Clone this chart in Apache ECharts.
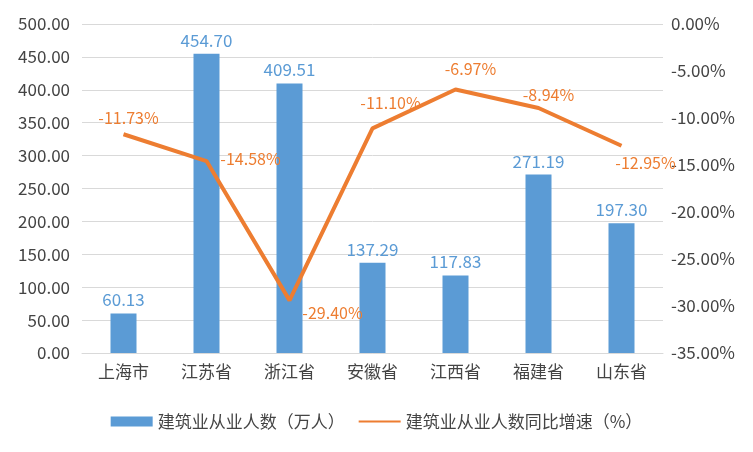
<!DOCTYPE html>
<html><head><meta charset="utf-8">
<script src="https://cdn.jsdelivr.net/npm/echarts@6/dist/echarts.min.js"></script>
<style>html,body{margin:0;padding:0;background:#fff}#c{width:753px;height:452px}</style>
</head><body><div id="c"></div>
<script>
var categories = ['上海市', '江苏省', '浙江省', '安徽省', '江西省', '福建省', '山东省'];
var workers = [60.13, 454.70, 409.51, 137.29, 117.83, 271.19, 197.30];
var growth = [-11.73, -14.58, -29.40, -11.10, -6.97, -8.94, -12.95];
var labelOffsets = [[5, -3], [44, 11], [43, 26], [18, -12], [15, -8], [10, 0], [24, 30]];

var myChart = echarts.init(document.getElementById('c'));
var font = '"Noto Sans CJK SC", sans-serif';
option = {
    textStyle: {fontFamily: font},
    grid: {left: 82, right: 90, top: 24, bottom: 99},
    legend: {
        top: 408, left: 'center', itemGap: 14, itemWidth: 42, itemHeight: 10,
        textStyle: {fontSize: 17, color: '#444', fontFamily: font},
        data: [
            {name: '建筑业从业人数（万人）', icon: 'rect'},
            {name: '建筑业从业人数同比增速（%）', icon: 'path://M0,4H42V6H0Z'}
        ]
    },
    xAxis: {
        type: 'category', data: categories,
        axisTick: {show: false},
        axisLine: {lineStyle: {color: '#d9d9d9'}},
        axisLabel: {fontSize: 17, color: '#444', fontFamily: font, margin: 10}
    },
    yAxis: [{
        type: 'value', min: 0, max: 500, interval: 50,
        axisLabel: {fontSize: 17, color: '#444', margin: 12, formatter: function (v) { return v.toFixed(2); }},
        splitLine: {lineStyle: {color: '#d9d9d9'}},
        axisLine: {show: false}, axisTick: {show: false}
    }, {
        type: 'value', min: -35, max: 0, interval: 5,
        axisLabel: {fontSize: 17, color: '#444', margin: 8, formatter: function (v) { return v.toFixed(2) + '%'; }},
        splitLine: {show: false},
        axisLine: {show: false}, axisTick: {show: false}
    }],
    series: [{
        name: '建筑业从业人数（万人）', type: 'bar', barWidth: 26,
        data: workers,
        itemStyle: {color: '#5b9bd5'},
        label: {show: true, position: 'top', fontSize: 17, color: '#5b9bd5',
            formatter: function (p) { return p.value.toFixed(2); }}
    }, {
        name: '建筑业从业人数同比增速（%）', type: 'line', yAxisIndex: 1,
        symbol: 'circle', symbolSize: 0, showSymbol: true,
        lineStyle: {color: '#ed7d31', width: 4}, itemStyle: {color: '#ed7d31'},
        data: growth.map(function (v, i) {
            return {value: v, label: {offset: labelOffsets[i]}};
        }),
        label: {show: true, position: 'top', fontSize: 16, color: '#ed7d31',
            formatter: function (p) { return p.value.toFixed(2) + '%'; }}
    }]
};
myChart.setOption(option, true);
</script></body></html>
